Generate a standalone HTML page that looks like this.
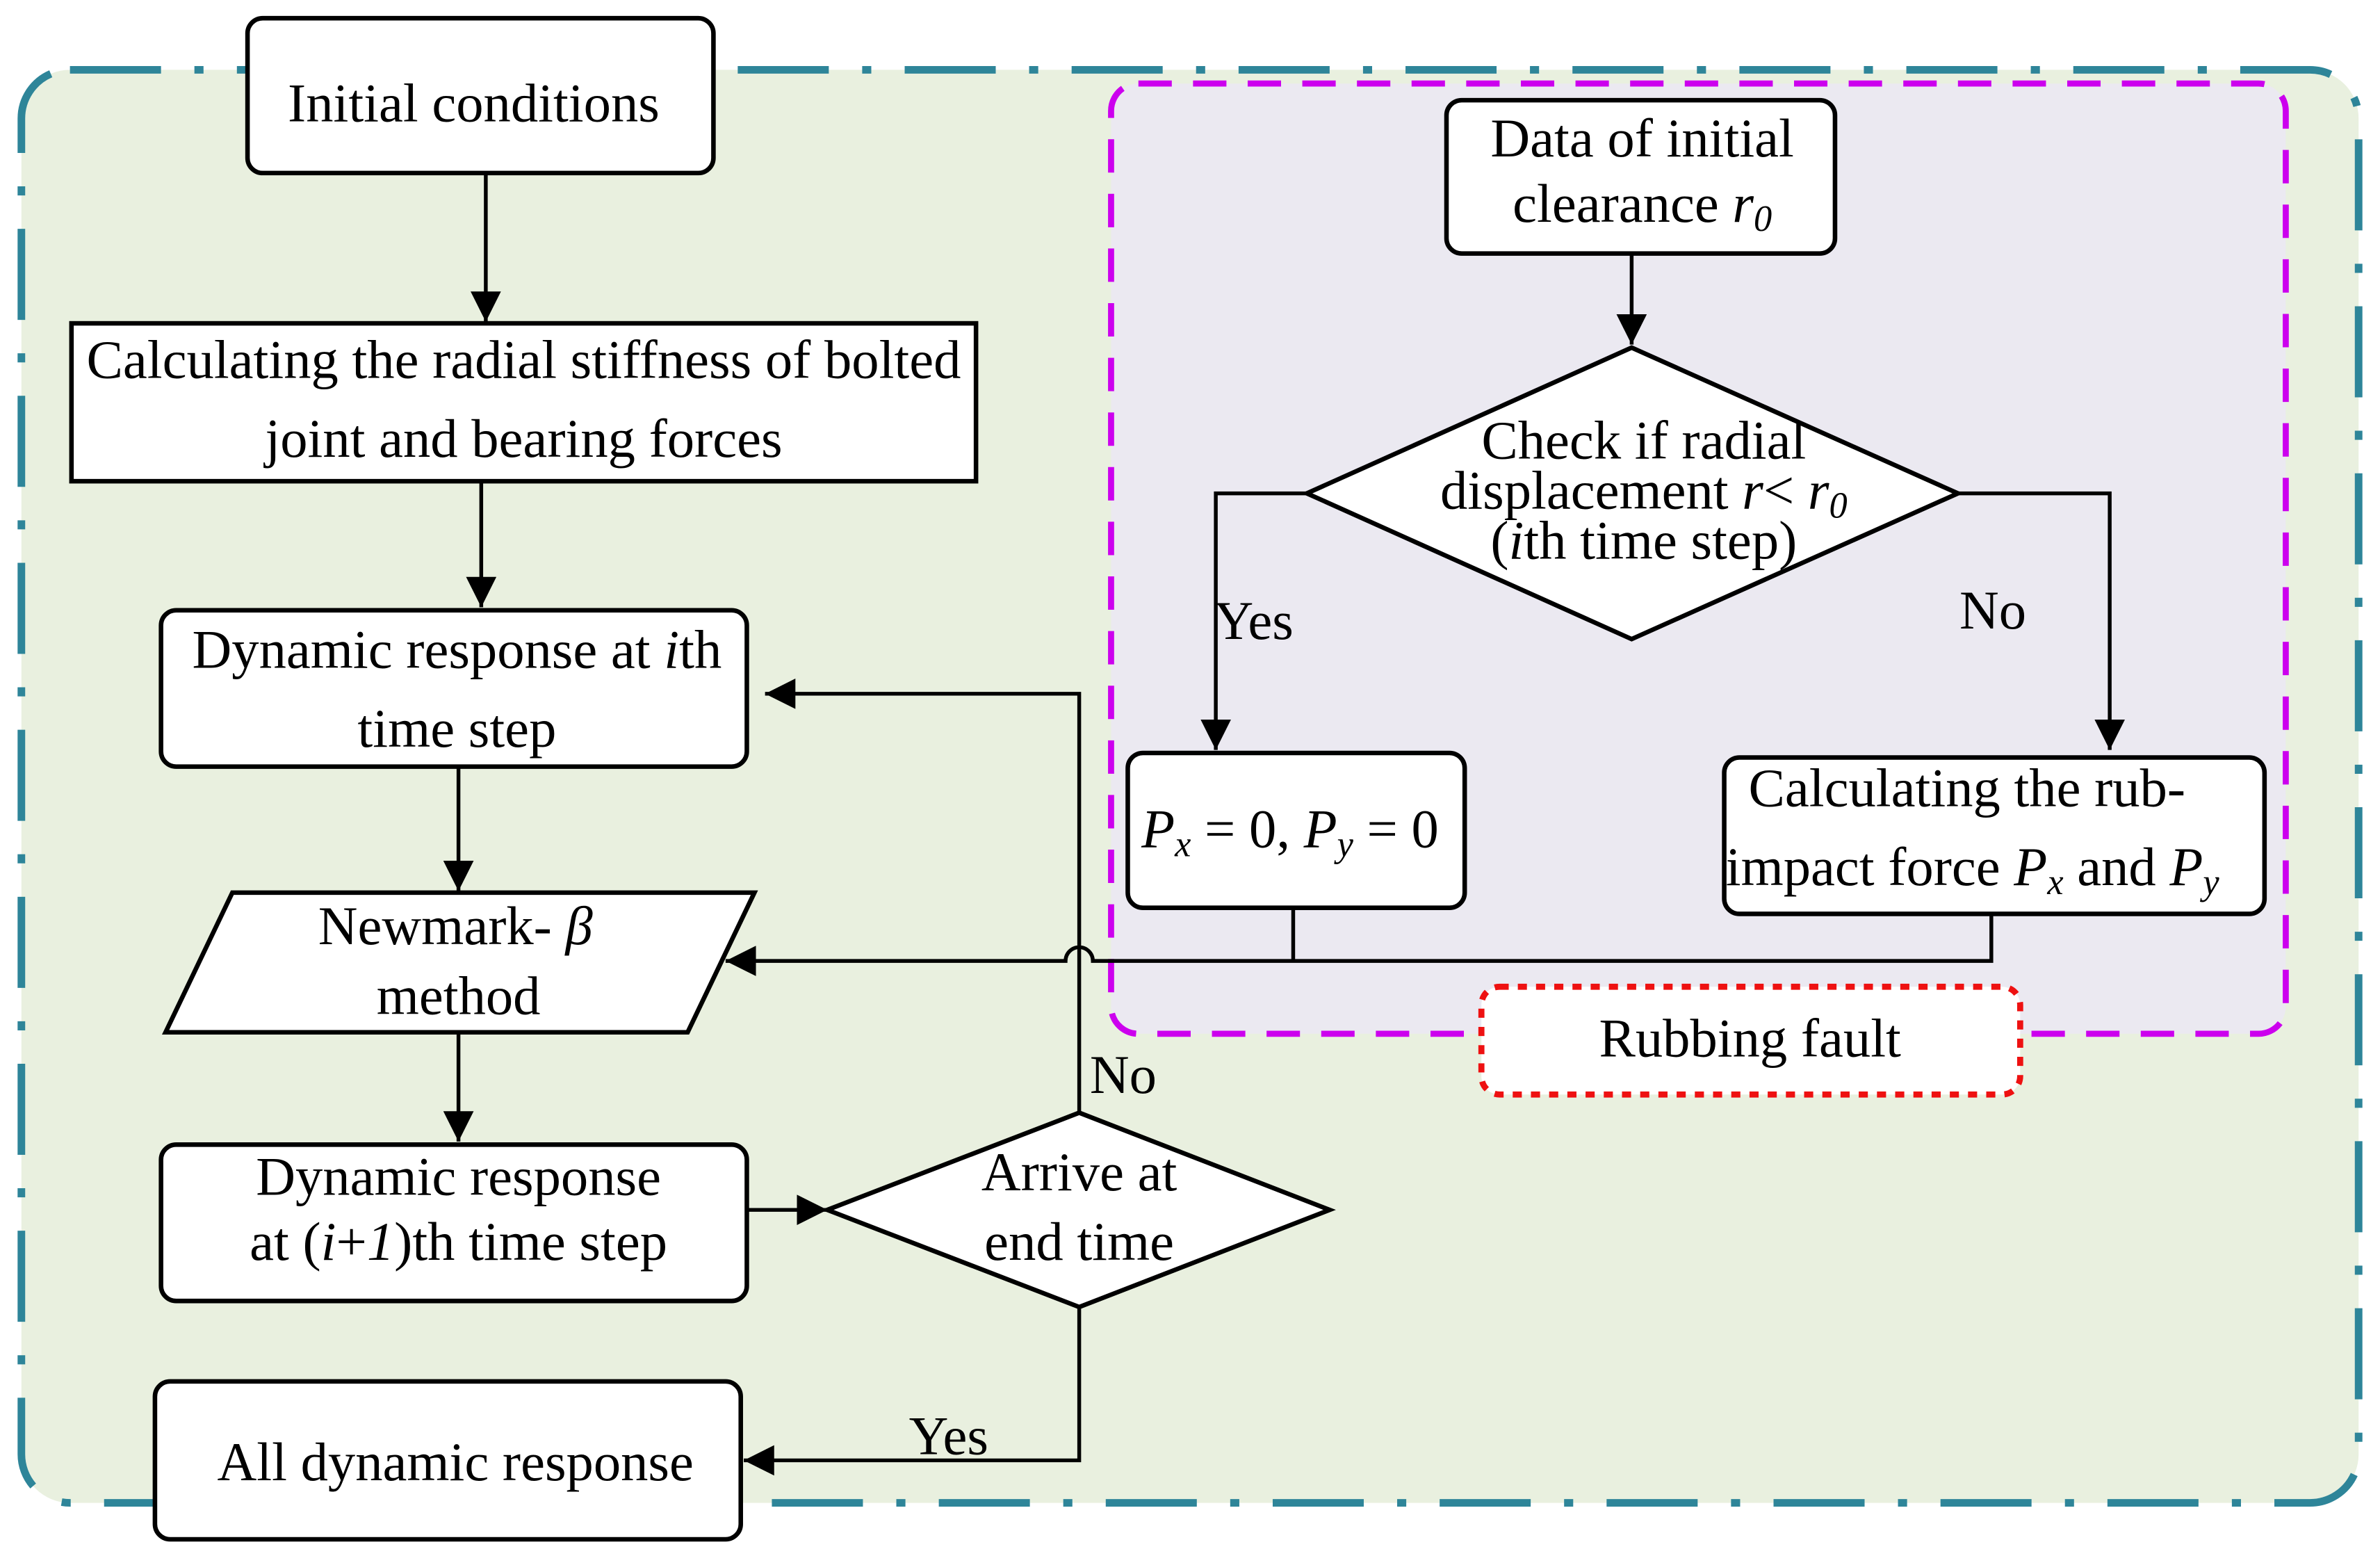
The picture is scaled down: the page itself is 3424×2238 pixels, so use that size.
<!DOCTYPE html>
<html><head><meta charset="utf-8"><style>
html,body{margin:0;padding:0;background:#fff}
svg{display:block}
text{font-family:"Liberation Serif",serif;font-size:36px;fill:#000}
</style></head><body>
<svg width="3424" height="2238" viewBox="0 0 1568 1025" xmlns="http://www.w3.org/2000/svg">
<defs>
<marker id="a" viewBox="0 0 10 10" refX="10" refY="5" markerWidth="22" markerHeight="20" markerUnits="userSpaceOnUse" orient="auto"><path d="M0,0L10,5L0,10z" fill="#000"/></marker>
</defs>
<rect width="1568" height="1025" fill="#fff"/>
<rect x="14" y="46" width="1540" height="944" rx="32" fill="#e9f0df" stroke="#2e8599" stroke-width="5" stroke-dasharray="60,22,6,22"/>
<rect x="732" y="55" width="774" height="626" rx="18" fill="#ebe9f1" stroke="#cc00ee" stroke-width="4" stroke-dasharray="22,14"/>
<rect x="976" y="650" width="355" height="71" rx="12" fill="#fff" stroke="#ee1111" stroke-width="4" stroke-dasharray="6,6"/>
<text x="1153" y="696" text-anchor="middle">Rubbing fault</text>

<g stroke="#000" stroke-width="2.5" fill="none">
<line x1="320" y1="114" x2="320" y2="212" marker-end="url(#a)"/>
<line x1="317" y1="317" x2="317" y2="400" marker-end="url(#a)"/>
<line x1="302" y1="505" x2="302" y2="587" marker-end="url(#a)"/>
<line x1="302" y1="680" x2="302" y2="752" marker-end="url(#a)"/>
<line x1="1075" y1="167" x2="1075" y2="227" marker-end="url(#a)"/>
<polyline points="862,325 801,325 801,494" marker-end="url(#a)"/>
<polyline points="1289,325 1390,325 1390,494" marker-end="url(#a)"/>
<path d="M852,598 V633 M1312,602 V633 H720 a9,9 0 0 0 -18,0 H478" marker-end="url(#a)"/>
<polyline points="711,733 711,457 504,457" marker-end="url(#a)"/>
<line x1="491" y1="797" x2="545" y2="797" marker-end="url(#a)"/>
<polyline points="711,861 711,962 490,962" marker-end="url(#a)"/>
</g>

<g fill="#fff" stroke="#000" stroke-width="3">
<rect x="163" y="12" width="307" height="102" rx="10"/>
<rect x="47" y="213" width="596" height="104"/>
<rect x="106" y="402" width="386" height="103" rx="10"/>
<polygon points="153,588 497,588 453,680 109,680"/>
<rect x="106" y="754" width="386" height="103" rx="10"/>
<polygon points="545,797 711,733 876,797 711,861"/>
<rect x="102" y="910" width="386" height="104" rx="10"/>
<rect x="953" y="66" width="256" height="101" rx="10"/>
<polygon points="861,325 1075,229 1290,325 1075,421"/>
<rect x="743" y="496" width="222" height="102" rx="10"/>
<rect x="1136" y="499" width="356" height="103" rx="10"/>
</g>

<text x="312" y="80" text-anchor="middle">Initial conditions</text>
<text x="345" y="249" text-anchor="middle">Calculating the radial stiffness of bolted</text>
<text x="345" y="301" text-anchor="middle">joint and bearing forces</text>
<text x="301" y="440" text-anchor="middle">Dynamic response at <tspan font-style="italic">i</tspan>th</text>
<text x="301" y="492" text-anchor="middle">time step</text>
<text x="300" y="622" text-anchor="middle">Newmark- <tspan font-style="italic">β</tspan></text>
<text x="302" y="668" text-anchor="middle">method</text>
<text x="302" y="787" text-anchor="middle">Dynamic response</text>
<text x="302" y="830" text-anchor="middle">at (<tspan font-style="italic">i</tspan>+<tspan font-style="italic">1</tspan>)th time step</text>
<text x="711" y="784" text-anchor="middle">Arrive at</text>
<text x="711" y="830" text-anchor="middle">end time</text>
<text x="300" y="975" text-anchor="middle">All dynamic response</text>
<text x="1082" y="103" text-anchor="middle">Data of initial</text>
<text x="1082" y="146" text-anchor="middle">clearance <tspan font-style="italic">r<tspan font-size="24" dy="6">0</tspan></tspan></text>
<text x="1083" y="302" text-anchor="middle">Check if radial</text>
<text x="1083" y="335" text-anchor="middle">displacement <tspan font-style="italic">r</tspan>&lt; <tspan font-style="italic">r<tspan font-size="24" dy="6">0</tspan></tspan></text>
<text x="1083" y="368" text-anchor="middle">(<tspan font-style="italic">i</tspan>th time step)</text>
<text x="826" y="421" text-anchor="middle">Yes</text>
<text x="1313" y="414" text-anchor="middle">No</text>
<text x="752" y="558"><tspan font-style="italic">P<tspan font-size="24" dy="6">x</tspan></tspan><tspan dy="-6"> = 0, </tspan><tspan font-style="italic">P<tspan font-size="24" dy="6">y</tspan></tspan><tspan dy="-6"> = 0</tspan></text>
<text x="1152" y="531">Calculating the rub-</text>
<text x="1137" y="583">impact force <tspan font-style="italic">P<tspan font-size="24" dy="6">x</tspan></tspan><tspan dy="-6"> and </tspan><tspan font-style="italic">P<tspan font-size="24" dy="6">y</tspan></tspan></text>
<text x="740" y="720" text-anchor="middle">No</text>
<text x="625" y="958" text-anchor="middle">Yes</text>
</svg>
</body></html>
